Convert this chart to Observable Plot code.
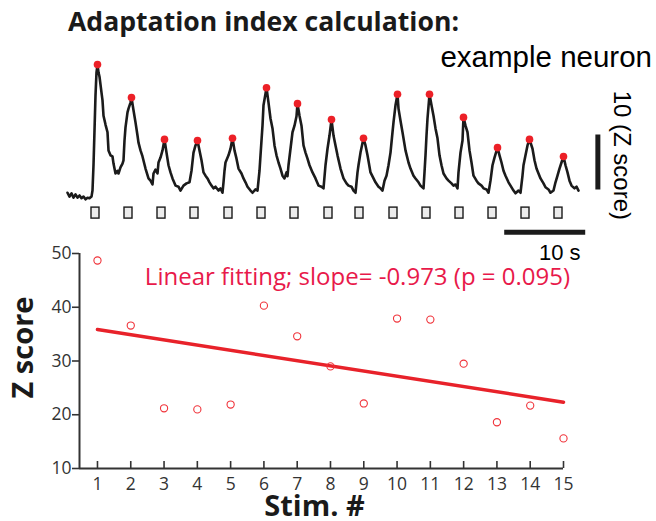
<!DOCTYPE html>
<html><head><meta charset="utf-8">
<script src="https://cdn.jsdelivr.net/npm/d3@7"></script>
<script src="https://cdn.jsdelivr.net/npm/@observablehq/plot@0.6"></script>
<style>
body{margin:0;background:#fff;}
#wrap{position:relative;width:656px;height:521px;overflow:hidden;background:#fff;}
#title{position:absolute;left:68px;top:6px;font-family:"Open Sans";font-weight:700;font-size:26.6px;line-height:30px;color:#1a1a1a;white-space:nowrap;}
#sub{position:absolute;right:4px;top:40px;font-family:"Liberation Sans";font-size:29.5px;line-height:34px;color:#000;white-space:nowrap;}
#top,#bottom{position:absolute;left:0;}
#top{top:0px;}
#bottom{top:240px;}
svg{background:transparent !important;}
</style></head><body>
<div id="wrap">
<div id="top"></div>
<div id="bottom"></div>
<div id="title">Adaptation index calculation:</div>
<div id="sub">example neuron</div>
</div>
<script>
// ---- data ----
const fps = 8.1; // imaging frames per second
const traceFrames = [1,3,5,7,9,11,13,15,17,19,21,23,25,26,27,28,29,30,31,32,33,35,36,37,39,41,42,44,46,47,49,51,52,54,56,57,58,59,61,62,64,65,67,69,71,72,74,76,79,82,84,86,87,89,91,92,94,96,98,100,102,104,106,109,112,114,117,120,123,125,127,129,131,133,135,137,139,141,143,145,147,149,152,154,156,157,158,159,162,164,166,168,170,172,175,177,179,181,184,186,189,191,193,194,196,197,199,200,202,204,206,208,210,212,214,216,218,220,221,222,224,226,228,230,231,233,235,237,239,241,243,246,249,252,255,257,259,261,263,265,267,269,271,274,277,280,282,285,287,289,291,292,294,297,299,301,304,307,309,312,314,316,318,320,322,324,326,327,329,331,332,334,336,339,342,344,347,349,352,354,357,358,359,360,361,363,365,367,369,371,373,375,377,380,382,385,387,389,391,392,394,396,397,399,401,403,405,407,410,412,415,417,420,422,424,426,428,431,433,435,437,439,442,444,447,449,452,454,456,457,459,461,463,466,468,470,472,474,477,479,482,484,487,489,491,493,495,497,499,501,503,505,508,510,512];
const traceZ = [0.5,-0.2,0.4,-0.4,0.2,-0.4,0,-0.5,-0.2,-0.7,-0.4,-0.5,-0.2,0.9,5.5,11.8,18.2,22.4,23.8,22.4,21.6,18.7,17.3,14.5,12.9,11.5,8.2,7.3,7.1,5.8,4.0,4.5,4.0,5.1,5.8,6.4,10.0,12.4,15.1,15.8,16.9,17.8,15.5,13.3,10.9,9.6,8.2,7.1,4.9,3.1,2.7,2.0,4.0,4.7,4.0,6.0,6.9,8.2,10.2,7.8,5.5,4.2,3.1,1.8,1.6,0.9,1.8,2.2,2.4,4.5,7.8,9.1,10.0,8.2,6.4,4.2,3.6,3.1,2.4,1.8,1.3,1.6,0.9,1.3,0.5,2.4,4.5,6.0,7.3,8.5,10.4,8.2,6.7,4.9,4.0,3.1,2.4,1.6,0.9,0.5,1.1,0.9,4.5,7.3,12.7,16.4,18.5,19.6,16.9,14.0,12.2,9.1,7.3,6.0,4.9,3.6,3.1,4.2,3.5,5.5,8.5,11.5,12.7,14.4,16.7,14.5,12.7,9.1,7.8,6.7,5.5,4.2,3.1,1.8,1.6,1.3,5.5,8.5,10.9,13.8,10.9,9.1,7.3,4.9,3.1,2.2,1.8,1.6,0.9,0.5,4.2,5.5,7.8,10.4,9.1,7.3,4.2,3.1,2.4,1.6,1.3,0.9,2.7,3.6,5.5,7.8,11.5,13.3,16.4,18.4,15.8,13.6,11.5,8.2,6.0,4.9,3.6,3.1,2.4,1.8,1.3,4.2,7.3,10.9,14.0,18.4,16.4,14.5,12.2,10.4,7.3,5.5,4.0,3.1,2.7,2.2,1.8,2.0,1.3,4.2,7.8,10.0,14.2,12.7,11.5,8.2,6.0,3.6,2.7,2.2,1.8,1.3,1.1,0.5,2.7,5.5,6.9,8.7,7.3,6.0,4.5,3.6,2.4,1.8,0.9,0.4,0.9,0.5,3.6,5.5,7.3,9.1,10.2,8.5,6.4,4.9,4.0,3.1,2.2,1.5,1.1,0.5,0.9,2.4,3.6,4.9,6.0,7.1,5.5,4.2,2.7,1.8,1.3,1.6,0.9];
const stimOnsetFrames = [25,58,91,124,158,191,224,258,289,323,356,389,422,455,488];
const stimDurationFrames = 8;
const stimNumbers = [1,2,3,4,5,6,7,8,9,10,11,12,13,14,15];
const peakZScores = [48.7,36.6,21.2,21.0,21.9,40.3,34.6,29.0,22.1,37.9,37.7,29.5,18.6,21.7,15.6];
const zTicks = [10,20,30,40,50];
const scaleBarZ = 10;   // Z score
const scaleBarSec = 10; // s
const fitLabel = "Linear fitting; slope= -0.973 (p = 0.095)";

// ---- derived tables ----
const trace = traceFrames.map((f, i) => ({t: f / fps, z: traceZ[i]}));
const stims = stimOnsetFrames.map(f => ({t1: f / fps, t2: (f + stimDurationFrames) / fps}));
const peaks = stims.map((s, i) => {
  const end = i < stims.length - 1 ? stims[i + 1].t1 : Infinity;
  return d3.greatest(trace.filter(d => d.t >= s.t1 && d.t < end), d => d.z);
});
const points = stimNumbers.map((s, i) => ({stim: s, z: peakZScores[i]}));

const RED = "#ec2027";
const BLACK = "#1b1b1b";

// ---- top: calcium trace ----
const barT = 65.6, barH = -6.7, hbarStart = 54.1;
const topPlot = Plot.plot({
  width: 656, height: 265,
  marginLeft: 66, marginRight: 23, marginTop: 57.5, marginBottom: 4,
  x: {domain: [0, 70], axis: null},
  y: {domain: [-12, 25], axis: null},
  style: {background: "transparent", fontFamily: "Liberation Sans", color: "#000"},
  marks: [
    Plot.rect(stims, {x1: "t1", x2: "t2", y1: -4.2, y2: -2.2, fill: "#ececec", stroke: BLACK, strokeWidth: 1.4}),
    Plot.line(trace, {x: "t", y: "z", stroke: BLACK, strokeWidth: 2.6, strokeLinejoin: "round"}),
    Plot.dot(peaks, {x: "t", y: "z", r: 3.8, fill: RED, stroke: "none"}),
    Plot.ruleX([barT], {y1: 1, y2: 1 + scaleBarZ, stroke: BLACK, strokeWidth: 5}),
    Plot.ruleY([barH], {x1: hbarStart, x2: hbarStart + scaleBarSec, stroke: BLACK, strokeWidth: 5}),
    Plot.text([`${scaleBarZ} (Z score)`], {x: 68.6, y: 7.3, rotate: 90, fontSize: 24, fill: "#000", lineAnchor: "middle", textAnchor: "middle"}),
    Plot.text([`${scaleBarSec} s`], {x: 60.9, y: -10.4, fontSize: 22, fill: "#000", lineAnchor: "middle", textAnchor: "middle"})
  ]
});
document.getElementById("top").append(topPlot);

// ---- bottom: peak z-scores with linear fit ----
const xDom = [0.46, 15];
const bottomPlot = Plot.plot({
  width: 656, height: 281,
  marginLeft: 79, marginRight: 93, marginTop: 13, marginBottom: 53,
  x: {domain: xDom},
  y: {domain: [10, 50]},
  style: {background: "transparent", fontFamily: "Open Sans", fontSize: "17.5px", color: "#333"},
  marks: [
    Plot.axisY({ticks: zTicks, tickSize: 7, tickPadding: 1, label: null, strokeWidth: 1.6}),
    Plot.axisX({ticks: stimNumbers, tickSize: 0, tickPadding: 9, label: null}),
    Plot.tickX(stimNumbers, {x: d => d, insetTop: 215 - 7, stroke: "#333", strokeWidth: 1.6}),
    Plot.ruleX([xDom[0]], {stroke: "#333", strokeWidth: 2}),
    Plot.ruleY([10], {stroke: "#333", strokeWidth: 2}),
    Plot.linearRegressionY(points, {x: "stim", y: "z", ci: 0, stroke: "#e8222a", strokeWidth: 3.5}),
    Plot.dot(points, {x: "stim", y: "z", r: 3.6, stroke: "#f0333a", strokeWidth: 1.1, fill: "none"}),
    Plot.text([fitLabel], {x: 8.81, y: 45.6, fontSize: 24, fill: "#e8194a", lineAnchor: "middle", textAnchor: "middle"}),
    Plot.text(["Z score"], {frameAnchor: "left", dx: -56, dy: -13.5, rotate: -90, fontSize: 29, fontWeight: 700, fill: "#1a1a1a", lineAnchor: "middle", textAnchor: "middle"}),
    Plot.text(["Stim. #"], {frameAnchor: "bottom", dx: -7, dy: 47, fontSize: 29, fontWeight: 700, fill: "#1a1a1a", lineAnchor: "bottom", textAnchor: "middle"})
  ]
});
document.getElementById("bottom").append(bottomPlot);
</script>
</body></html>
